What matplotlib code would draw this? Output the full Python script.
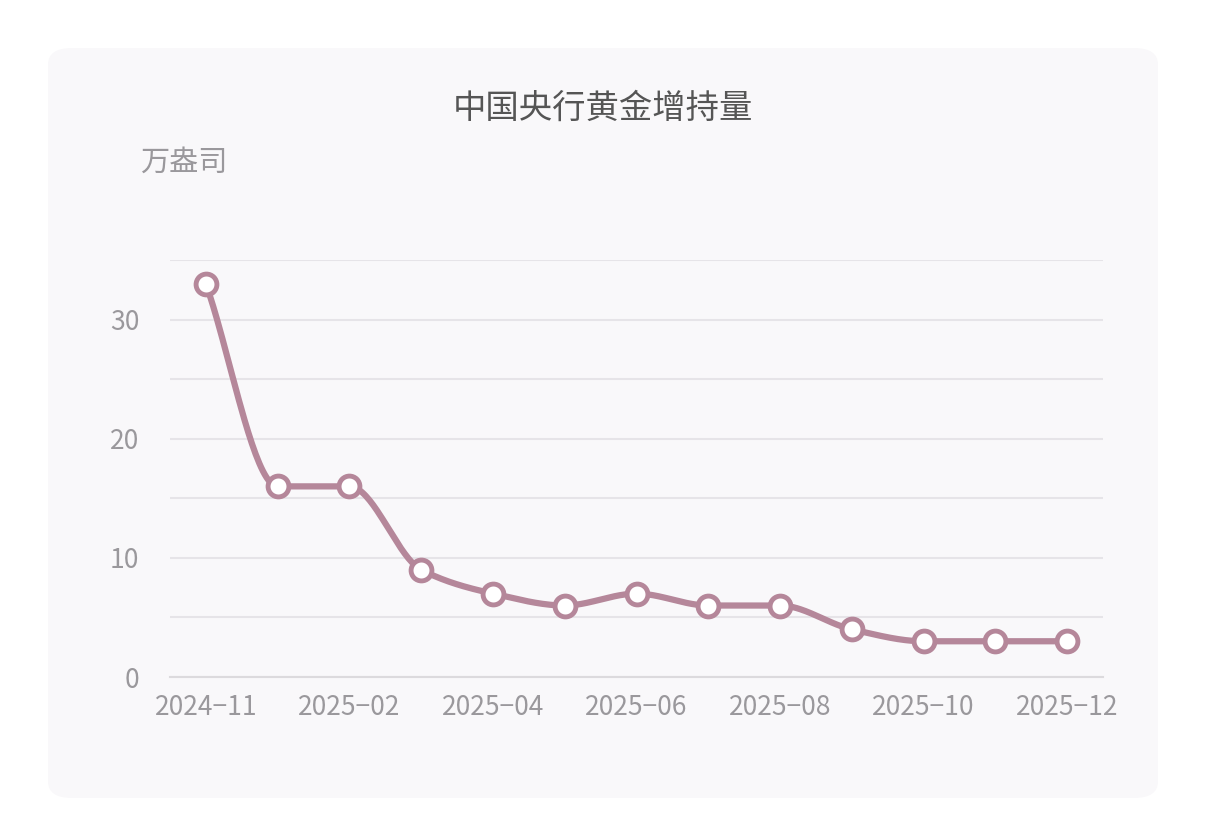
import numpy as np
import matplotlib.pyplot as plt
from matplotlib.patches import FancyBboxPatch

plt.rcParams['font.family'] = ['Noto Sans CJK SC', 'DejaVu Sans']

# data
months = ['2024-11', '2024-12', '2025-02', '2025-03', '2025-04', '2025-05', '2025-06',
          '2025-07', '2025-08', '2025-09', '2025-10', '2025-11', '2025-12']
values = [33, 16, 16, 9, 7, 6, 7, 6, 6, 4, 3, 3, 3]
label_every = 2


def pchip(x, y, n=40):
    # monotone cubic curve through the points
    x = np.asarray(x, float)
    y = np.asarray(y, float)
    h = np.diff(x)
    d = np.diff(y) / h
    m = np.zeros_like(y)
    for i in range(1, len(y) - 1):
        if d[i - 1] * d[i] > 0:
            w1 = 2 * h[i] + h[i - 1]
            w2 = h[i] + 2 * h[i - 1]
            m[i] = (w1 + w2) / (w1 / d[i - 1] + w2 / d[i])
    m[0] = d[0]
    m[-1] = d[-1]
    xs, ys = [], []
    for i in range(len(x) - 1):
        t = np.linspace(0, 1, n)
        h00 = 2 * t**3 - 3 * t**2 + 1
        h10 = t**3 - 2 * t**2 + t
        h01 = -2 * t**3 + 3 * t**2
        h11 = t**3 - t**2
        xs.append(x[i] + t * h[i])
        ys.append(h00 * y[i] + h10 * h[i] * m[i] + h01 * y[i + 1] + h11 * h[i] * m[i + 1])
    return np.concatenate(xs), np.concatenate(ys)


fig = plt.figure(figsize=(12.06, 8.27), dpi=100)
fig.patches.append(FancyBboxPatch((48 / 1206, 29 / 827), 1110 / 1206, 750 / 827,
                                  boxstyle='round,pad=0,rounding_size=0.02',
                                  transform=fig.transFigure, facecolor='#f9f8fa',
                                  edgecolor='none', zorder=-5))
ax = fig.add_axes([170 / 1206, 150 / 827, 933 / 1206, 417 / 827])
ax.set_facecolor('none')
ax.set_zorder(2)

color = '#b5879a'
xi = np.arange(len(values))
sx, sy = pchip(xi, values)
ax.plot(sx, sy, color=color, lw=4.5, solid_capstyle='round', zorder=2)
ax.plot(xi, values, 'o', ms=15, mfc='white', mec=color, mew=3.5, zorder=3, clip_on=False)

ax.set_xlim(-0.5, 12.5)
ax.set_ylim(0, 35)
ax.set_yticks([0, 10, 20, 30])
ax.set_yticks(np.arange(0, 36, 5), minor=True)
ax.grid(True, which='both', axis='y', color='#e6e4e8', lw=1.5)
ax.set_xticks(xi[::label_every])
ax.set_xticklabels([m.replace('-', '−') for m in months[::label_every]])
ax.tick_params(axis='both', which='both', length=0, labelsize=19, colors='#9a989c', pad=12)
ax.tick_params(axis='y', pad=22)
for s in ['top', 'right', 'left']:
    ax.spines[s].set_visible(False)
ax.spines['bottom'].set_color('#dcdadd')
ax.spines['bottom'].set_linewidth(1.5)

fig.text(603 / 1206, 1 - 108 / 827, '中国央行黄金增持量', ha='center', va='center',
         fontsize=24, color='#555555')
fig.text(140 / 1206, 1 - 163 / 827, '万盎司', ha='left', va='center',
         fontsize=21, color='#9a989c')

fig.savefig('out.png')
